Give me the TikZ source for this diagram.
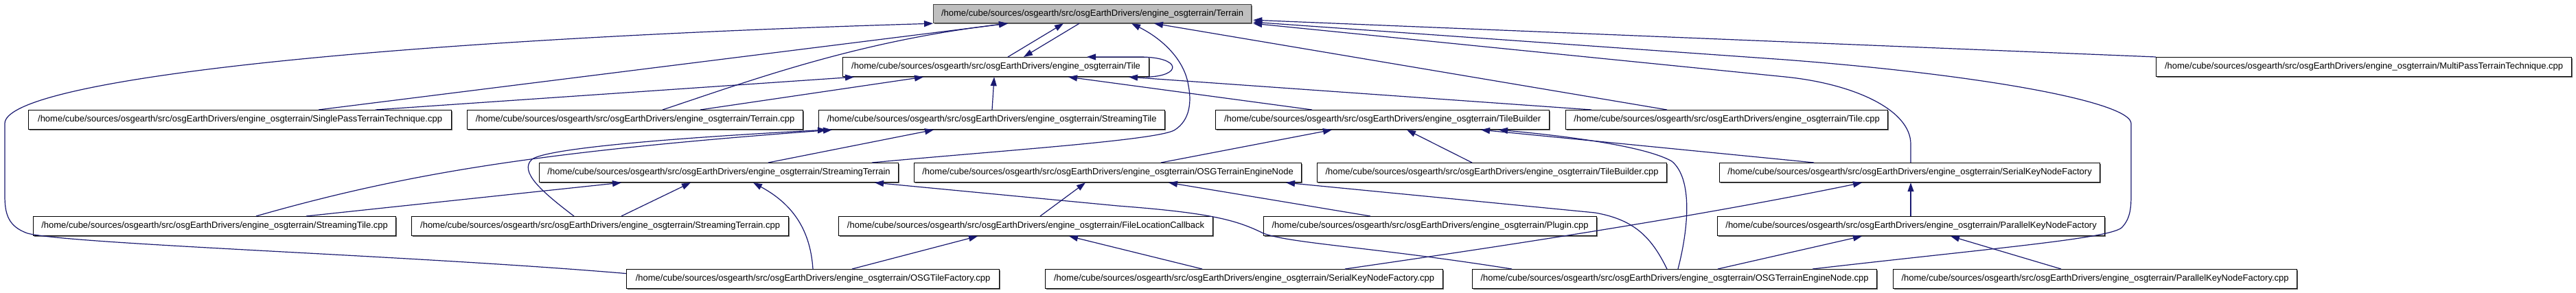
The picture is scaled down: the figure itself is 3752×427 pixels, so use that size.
\documentclass[tikz,border=0pt]{standalone}
\usepackage{fontspec}
\setmainfont{Liberation Sans}
\usetikzlibrary{arrows.meta,shadows}
\definecolor{edgecol}{HTML}{191970}
\definecolor{graybox}{HTML}{BFBFBF}
\begin{document}
\begin{tikzpicture}[x=1pt,y=-1pt,
  box/.style={draw=black, line width=1.2pt, fill=white, anchor=north west,
    minimum height=28pt, inner sep=0pt, font=\fontsize{13}{15}\selectfont,
    drop shadow={shadow xshift=1.5pt, shadow yshift=-1.5pt, fill=black!60, opacity=1}},
  edge/.style={draw=edgecol, line width=1.2pt, -{Triangle[length=13pt,width=9pt]}}]
\useasboundingbox[fill=white] (0,0) rectangle (3752,427);
\def\P{/home/cube/sources/osgearth/src/osgEarthDrivers/engine\_osgterrain/}
% row 1
\node[box, fill=graybox, draw=black!75, minimum width=463pt, minimum height=27pt] (Terrain) at (1359,6) {\P Terrain};
% row 2
\node[box, minimum width=446pt] (Tile) at (1227,83) {\P Tile};
\node[box, minimum width=605pt] (MP) at (3140,83) {\P MultiPassTerrainTechnique.cpp};
% row 3
\node[box, minimum width=616pt] (SP) at (41,160) {\P SinglePassTerrainTechnique.cpp};
\node[box, minimum width=489pt] (TC) at (680,160) {\P Terrain.cpp};
\node[box, minimum width=504pt] (ST) at (1192,160) {\P StreamingTile};
\node[box, minimum width=486pt] (TB) at (1770,160) {\P TileBuilder};
\node[box, minimum width=469pt] (TCpp) at (2280,160) {\P Tile.cpp};
% row 4
\node[box, minimum width=523pt] (STr) at (785,237) {\P StreamingTerrain};
\node[box, minimum width=564pt] (OEN) at (1331,237) {\P OSGTerrainEngineNode};
\node[box, minimum width=509pt] (TBc) at (1918,237) {\P TileBuilder.cpp};
\node[box, minimum width=554pt] (SKF) at (2504,237) {\P SerialKeyNodeFactory};
% row 5
\node[box, minimum width=528pt] (STc) at (48,315) {\P StreamingTile.cpp};
\node[box, minimum width=549pt] (STrc) at (599,315) {\P StreamingTerrain.cpp};
\node[box, minimum width=545pt] (FLC) at (1221,315) {\P FileLocationCallback};
\node[box, minimum width=485pt] (PLG) at (1840,315) {\P Plugin.cpp};
\node[box, minimum width=564pt] (PKF) at (2501,315) {\P ParallelKeyNodeFactory};
% row 6
\node[box, minimum width=543pt] (OTF) at (912,392) {\P OSGTileFactory.cpp};
\node[box, minimum width=579pt] (SKFc) at (1522,392) {\P SerialKeyNodeFactory.cpp};
\node[box, minimum width=589pt] (OENc) at (2144,392) {\P OSGTerrainEngineNode.cpp};
\node[box, minimum width=588pt] (PKFc) at (2757,392) {\P ParallelKeyNodeFactory.cpp};

% edges
\draw[edge] ([yshift=8pt]OTF.west) .. controls (600,372) and (100,356) .. (40,340)
  .. controls (12,330) and (7,312) .. (7,285) -- (7,180)
  .. controls (7,120) and (500,60) .. (Terrain.south west);
\draw[edge] ([xshift=423pt]SP.north west) -- ([xshift=109pt]Terrain.south west);
\draw[edge] ([xshift=506pt]SP.north west) -- ([xshift=17pt]Tile.south west);
\draw[edge] ([xshift=285pt]TC.north west) .. controls (1100,115) and (1250,60) .. ([xshift=109pt]Terrain.south west);
\draw[edge] ([xshift=340pt]TC.north west) -- ([xshift=118pt]Tile.south west);
\draw[edge] ([xshift=241pt]Tile.north west) -- ([xshift=190pt]Terrain.south west);
\draw[edge] ([xshift=213pt]Terrain.south west) -- ([xshift=264pt]Tile.north west);
\draw[edge] ([xshift=-4pt]Tile.south east) .. controls (1722,111) and (1722,83) .. (1660,83) -- ([xshift=356pt]Tile.north west);
\draw[edge] ([xshift=253pt]ST.north west) -- ([xshift=221pt]Tile.south west);
\draw[edge] ([xshift=141pt]TB.north west) -- ([xshift=329pt]Tile.south west);
\draw[edge] ([xshift=38pt]TCpp.north west) -- ([xshift=417pt]Tile.south west);
\draw[edge] ([xshift=148pt]TCpp.north west) -- ([xshift=322pt]Terrain.south west);
\draw[edge] ([xshift=485pt]STr.north west) .. controls (1450,220) and (1680,205) .. (1710,190)
  .. controls (1735,175) and (1735,145) .. (1731,125)
  .. controls (1725,85) and (1690,55) .. ([xshift=289pt]Terrain.south west);
\draw[edge] (MP.north west) -- ([xshift=2pt,yshift=5pt]Terrain.south east);
\draw[edge] ([xshift=279pt]SKF.north west) -- (2783,210) .. controls (2783,160) and (2700,122) .. (2600,112) -- ([xshift=2pt]Terrain.south east);
\draw[edge] ([xshift=496pt]OENc.north west) .. controls (2900,362) and (3070,348) .. (3090,332)
  .. controls (3104,318) and (3104,300) .. (3104,280) -- (3104,180)
  .. controls (3104,150) and (2900,110) .. (2600,87) -- ([xshift=2pt,yshift=2pt]Terrain.south east);
\draw[edge] ([xshift=325pt]STc.north west) .. controls (600,250) and (800,220) .. ([xshift=20pt]ST.south west);
\draw[edge] ([xshift=398pt]STc.north west) -- ([xshift=120pt]STr.south west);
\draw[edge] ([xshift=237pt]STrc.north west) .. controls (790,280) and (755,250) .. (775,232)
  .. controls (800,215) and (1000,200) .. ([xshift=12pt]ST.south west);
\draw[edge] ([xshift=306pt]STrc.north west) -- ([xshift=221pt]STr.south west);
\draw[edge] ([xshift=334pt]STr.north west) -- ([xshift=168pt]ST.south west);
\draw[edge] ([xshift=272pt]OTF.north west) .. controls (1180,330) and (1150,295) .. ([xshift=312pt]STr.south west);
\draw[edge] ([xshift=329pt]OTF.north west) -- ([xshift=203pt]FLC.south west);
\draw[edge] ([xshift=58pt]OENc.north west) .. controls (2000,360) and (1880,355) .. (1840,340)
  .. controls (1800,320) and (1760,310) .. (1628,300) -- ([xshift=489pt]STr.south west);
\draw[edge] ([xshift=360pt]OEN.north west) -- ([xshift=170pt]TB.south west);
\draw[edge] ([xshift=294pt]FLC.north west) -- ([xshift=250pt]OEN.south west);
\draw[edge] ([xshift=156pt]PLG.north west) -- ([xshift=371pt]OEN.south west);
\draw[edge] ([xshift=284pt]OENc.north west) .. controls (2405,345) and (2380,320) .. (2323,310) -- ([xshift=542pt]OEN.south west);
\draw[edge] ([xshift=300pt]OENc.north west) .. controls (2460,330) and (2465,260) .. (2435,235)
  .. controls (2400,215) and (2300,200) .. ([xshift=413pt]TB.south west);
\draw[edge] ([xshift=226pt]TBc.north west) -- ([xshift=279pt]TB.south west);
\draw[edge] ([xshift=138pt]SKF.north west) -- ([xshift=387pt]TB.south west);
\draw[edge] ([xshift=229pt]SKFc.north west) -- ([xshift=336pt]FLC.south west);
\draw[edge] ([xshift=437pt]SKFc.north west) .. controls (2250,350) and (2500,310) .. ([xshift=208pt]SKF.south west);
\draw[edge] ([xshift=282pt]PKF.north west) -- ([xshift=279pt]SKF.south west);
\draw[edge] ([xshift=358pt]OENc.north west) -- ([xshift=211pt]PKF.south west);
\draw[edge] ([xshift=245pt]PKFc.north west) -- ([xshift=340pt]PKF.south west);
\end{tikzpicture}
\end{document}
